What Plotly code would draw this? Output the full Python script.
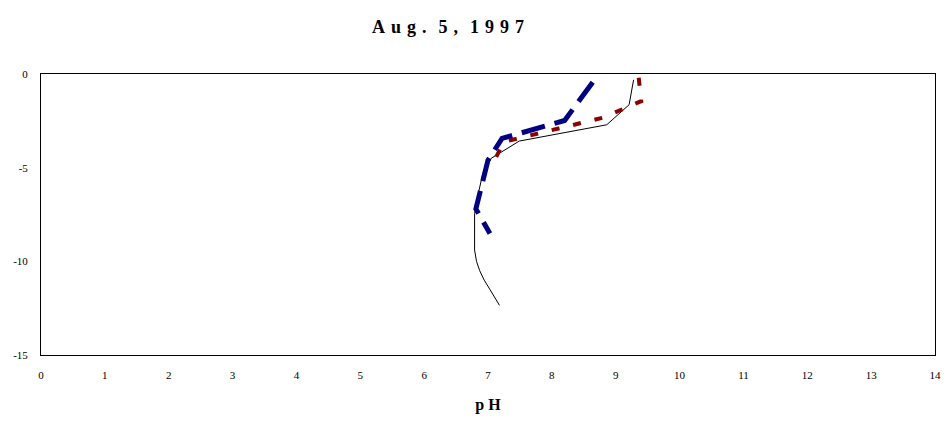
import plotly.graph_objects as go

# Series 1 (thin black solid)
ph_a = [9.28, 9.21, 8.86, 7.49, 7.05, 6.92, 6.86, 6.79, 6.79, 6.82, 6.87, 6.94, 7.03, 7.12, 7.18]
depth_a = [-0.31, -1.64, -2.71, -3.58, -4.5, -5.3, -6.2, -7.45, -9.4, -10.0, -10.5, -11.0, -11.5, -12.0, -12.35]

# Series 2 (dark red short dash)
ph_b = [9.36, 9.40, 8.80, 7.25, 7.08]
depth_b = [-0.2, -1.45, -2.33, -3.62, -4.75]

# Series 3 (navy long dash)
ph_c = [8.64, 8.20, 7.22, 7.00, 6.81, 7.03]
depth_c = [-0.44, -2.48, -3.44, -4.6, -7.2, -8.51]

x_ticks = list(range(0, 15))
y_ticks = [0, -5, -10, -15]

fig = go.Figure()
fig.add_trace(go.Scatter(x=ph_a, y=depth_a, mode="lines", name="Series 1",
                         line=dict(color="black", width=1)))
fig.add_trace(go.Scatter(x=ph_b, y=depth_b, mode="lines", name="Series 2",
                         line=dict(color="#8B0000", width=4, dash="8px,14px")))
fig.add_trace(go.Scatter(x=ph_c, y=depth_c, mode="lines", name="Series 3",
                         line=dict(color="#000080", width=5, dash="24px,10px")))

serif = "Liberation Serif"
L, R, T, B = 41, 7, 74, 68
pw = 948 - L - R
ph_ = 423 - T - B

sp = "\u2004"
title_text = sp.join("Aug.") + sp * 2 + sp.join("5,") + sp * 2 + sp.join("1997")

fig.update_layout(
    width=948, height=423,
    margin=dict(l=L, r=R, t=T, b=B),
    paper_bgcolor="white", plot_bgcolor="white",
    showlegend=False,
    font=dict(family=serif, color="black", size=11),
    annotations=[
        dict(text=title_text,
             x=(451 - L) / pw, y=(423 - B - 27) / ph_,
             xref="paper", yref="paper", xanchor="center", yanchor="middle",
             showarrow=False, font=dict(family=serif, size=18, weight="bold")),
    ],
)

fig.update_xaxes(range=[0, 14], tickvals=x_ticks, ticktext=[str(v) for v in x_ticks],
                 showgrid=False, zeroline=False, showline=True, linecolor="black",
                 linewidth=1, mirror=True, ticks="", ticklabelstandoff=10,
                 tickfont=dict(family=serif, size=11),
                 title=dict(text="<b>p H</b>", font=dict(family=serif, size=16), standoff=18))
fig.update_yaxes(range=[-15, 0], tickvals=y_ticks, ticktext=[str(v) for v in y_ticks],
                 showgrid=False, zeroline=False, showline=True, linecolor="black",
                 linewidth=1, mirror=True, ticks="", ticklabelstandoff=10,
                 tickfont=dict(family=serif, size=11))

fig.write_html("out.html")
